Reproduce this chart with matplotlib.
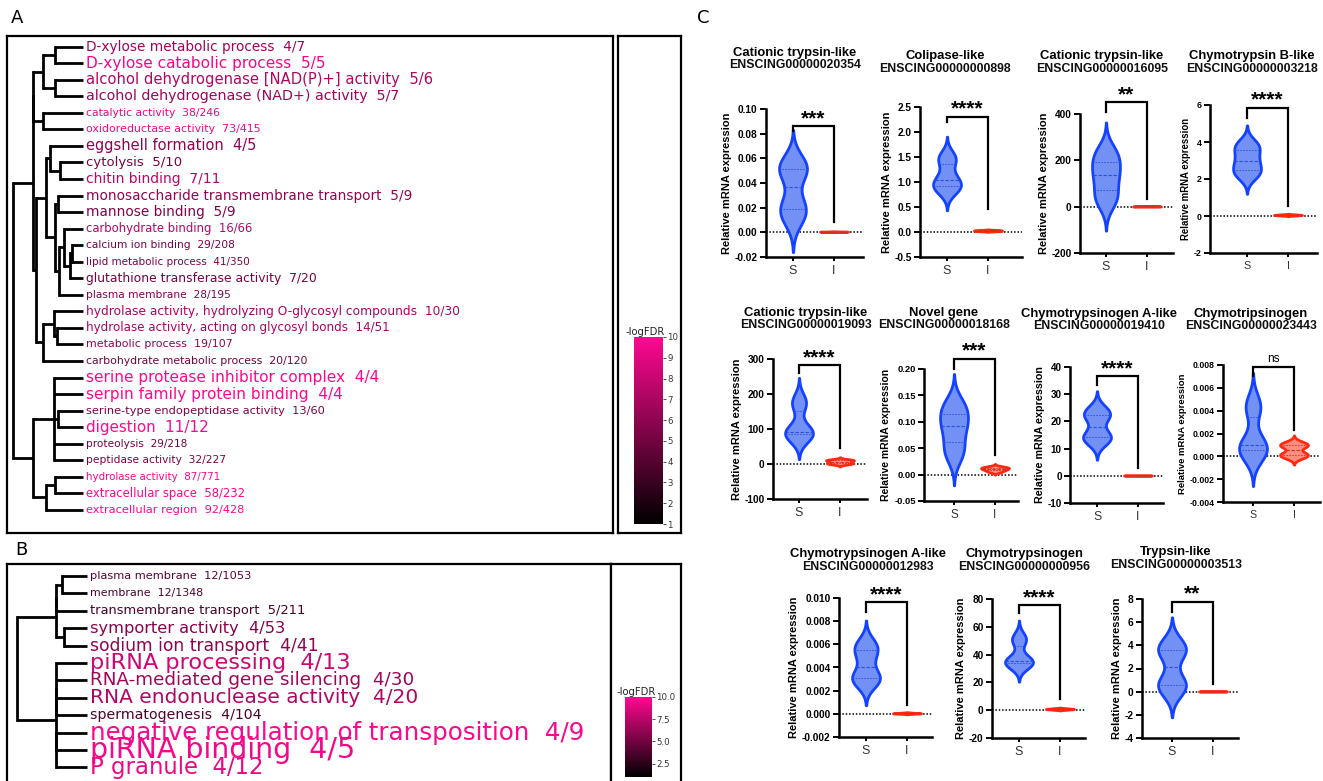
import numpy as np
import matplotlib
matplotlib.use("Agg")
import matplotlib.pyplot as plt
from matplotlib.colors import LinearSegmentedColormap, Normalize
from matplotlib.colorbar import ColorbarBase

plt.rcParams['axes.unicode_minus'] = False

W, H = 1323, 781

# ---------------- panel A: enriched GO terms ----------------
a_names = ["D-xylose metabolic process", "D-xylose catabolic process",
           "alcohol dehydrogenase [NAD(P)+] activity", "alcohol dehydrogenase (NAD+) activity",
           "catalytic activity", "oxidoreductase activity", "eggshell formation", "cytolysis",
           "chitin binding", "monosaccharide transmembrane transport", "mannose binding",
           "carbohydrate binding", "calcium ion binding", "lipid metabolic process",
           "glutathione transferase activity", "plasma membrane",
           "hydrolase activity, hydrolyzing O-glycosyl compounds",
           "hydrolase activity, acting on glycosyl bonds", "metabolic process",
           "carbohydrate metabolic process", "serine protease inhibitor complex",
           "serpin family protein binding", "serine-type endopeptidase activity", "digestion",
           "proteolysis", "peptidase activity", "hydrolase activity", "extracellular space",
           "extracellular region"]
a_counts = ["4/7", "5/5", "5/6", "5/7", "38/246", "73/415", "4/5", "5/10", "7/11", "5/9", "5/9",
            "16/66", "29/208", "41/350", "7/20", "28/195", "10/30", "14/51", "19/107", "20/120",
            "4/4", "4/4", "13/60", "11/12", "29/218", "32/227", "87/771", "58/232", "92/428"]
a_logfdr = [6.6, 9.6, 7.2, 6.6, 9.2, 9.6, 6.0, 5.2, 7.6, 6.2, 5.6, 7.4, 5.2, 5.4, 5.2, 5.6,
            7.0, 7.0, 6.2, 5.0, 10.0, 10.0, 5.4, 10.0, 5.0, 5.2, 9.6, 9.8, 10.0]

# dendrogram: (merge distance, children...), ints are leaf rows
a_top1 = (49.7, (39.7, (28, 0, 1), (28, 2, 3)), (39.7, 4, 5))
a_top2 = (37, (33, 6, (23, 7, 8)),
          (28, (24.7, 9, 10), (23.7, (19, 11, (13, (11.3, 12, 13), 14)), 15)))
a_top3 = (39.7, (28.7, 16, (25.7, 17, 18)), 19)
a_bot = (49.7, (29, 20, 21, (24.7, 22, 23), 24, 25), (37, (28, 26, 27), 28))
a_tree = (70.3, (50.3, a_top1, (47, a_top2, a_top3)), a_bot)

# ---------------- panel B ----------------
b_names = ["plasma membrane", "membrane", "transmembrane transport", "symporter activity",
           "sodium ion transport", "piRNA processing", "RNA-mediated gene silencing",
           "RNA endonuclease activity", "spermatogenesis", "negative regulation of transposition",
           "piRNA binding", "P granule"]
b_counts = ["12/1053", "12/1348", "5/211", "4/53", "4/41", "4/13", "4/30", "4/20", "4/104",
            "4/9", "4/5", "4/12"]
b_logfdr = [4.2, 3.8, 3.6, 5.8, 6.0, 8.3, 6.6, 7.2, 3.8, 9.8, 9.6, 9.3]
b_tree = (70.3, (31, (31, (25.3, 0, 1), 2), (23, 3, 4)), (31, (31, 5, 6, 7, 8), (31, 9, 10, 11)))

# ---------------- panel C: qPCR violins ----------------
genes = ["Cationic trypsin-like", "Colipase-like", "Cationic trypsin-like", "Chymotrypsin B-like",
         "Cationic trypsin-like", "Novel gene", "Chymotrypsinogen A-like", "Chymotripsinogen",
         "Chymotrypsinogen A-like", "Chymotrypsinogen", "Trypsin-like"]
gene_ids = ["ENSCING00000020354", "ENSCING00000000898", "ENSCING00000016095",
            "ENSCING00000003218", "ENSCING00000019093", "ENSCING00000018168",
            "ENSCING00000019410", "ENSCING00000023443", "ENSCING00000012983",
            "ENSCING00000000956", "ENSCING00000003513"]
s_vals = [[0.012, 0.017, 0.024, 0.049, 0.052, 0.055],
          [0.84, 0.90, 0.98, 1.12, 1.44, 1.50],
          [20, 55, 120, 156, 205, 240],
          [2.2, 2.4, 2.8, 3.2, 3.7, 3.9],
          [80, 85, 90, 95, 170, 180],
          [0.035, 0.055, 0.085, 0.10, 0.12, 0.135],
          [13, 14, 15, 21, 23, 24],
          [0.0002, 0.0005, 0.0008, 0.0012, 0.0042, 0.0045],
          [0.0028, 0.0030, 0.0033, 0.0048, 0.0057, 0.0060],
          [33, 34, 35, 36, 50, 52],
          [0.3, 0.5, 0.8, 3.4, 3.7, 3.9]]
i_vals = [[0.0003, 0.0004, 0.0005, 0.0005, 0.0006, 0.0007],
          [0.015, 0.02, 0.025, 0.03, 0.035, 0.04],
          [0.5, 0.8, 1.0, 1.2, 1.5, 1.8],
          [0.02, 0.04, 0.05, 0.06, 0.07, 0.09],
          [0, 2, 4, 9, 11, 12],
          [0.005, 0.008, 0.010, 0.012, 0.013, 0.015],
          [0.05, 0.08, 0.10, 0.10, 0.12, 0.15],
          [0.0, 0.0001, 0.0002, 0.0009, 0.0010, 0.0011],
          [0.0, 0.00003, 0.00004, 0.00005, 0.00007, 0.0001],
          [0.3, 0.6, 0.8, 0.9, 1.1, 1.4],
          [0.0, 0.01, 0.02, 0.02, 0.03, 0.04]]
y_ranges = [(-0.02, 0.10, 0.02), (-0.5, 2.5, 0.5), (-200, 400, 200), (-2, 6, 2),
            (-100, 300, 100), (-0.05, 0.20, 0.05), (-10, 40, 10), (-0.004, 0.008, 0.002),
            (-0.002, 0.010, 0.002), (-20, 80, 20), (-4, 8, 2)]
signif = ["***", "****", "**", "****", "****", "***", "****", "ns", "****", "****", "**"]
# bracket: top, left leg end, right leg end
brackets = [(0.086, 0.082, 0.008), (2.31, 2.2, 0.47), (450, 407, 33), (5.86, 5.28, 0.55),
            (282, 260, 45), (0.219, 0.20, 0.038), (36.6, 33.5, 2.9),
            (0.00785, 0.00704, 0.00232), (0.00965, 0.0088, 0.0008), (75.7, 69.7, 8.4),
            (7.77, 6.9, 0.64)]

# layout in pixels: spine x, S x, right end, top tick y, axis y, title x, title y, font scale
panel_px = [(766, 793, 863, 109, 257, 795, 53, 1.0),
            (920, 947, 1022, 107, 257, 945, 56, 1.0),
            (1080, 1106, 1173, 114, 253, 1102, 56, 1.0),
            (1210, 1247, 1317, 105, 253, 1252, 56, 0.87),
            (773, 799, 867, 359, 499, 806, 313, 1.0),
            (924, 954, 1018, 369, 501, 944, 313, 0.93),
            (1070, 1097, 1163, 367, 503, 1099, 314, 0.97),
            (1223, 1253, 1320, 365, 502, 1251, 314, 0.85),
            (839, 866, 932, 598, 737, 868, 554, 1.0),
            (992, 1019, 1085, 599, 738, 1024, 554, 1.0),
            (1142, 1172, 1238, 599, 738, 1176, 552, 1.0)]
SPACING = 41.0


def px_rect(x0, y0, x1, y1):
    return [x0 / W, 1 - y1 / H, (x1 - x0) / W, (y1 - y0) / H]


cmap = LinearSegmentedColormap.from_list('fdr', ['#000000', '#FF0890'])
norm = Normalize(1, 10)


def term_sizes(counts, lo, hi, p):
    r = np.array([int(c.split('/')[0]) / int(c.split('/')[1]) for c in counts]) ** p
    return (lo + (hi - lo) * (r - r.min()) / (r.max() - r.min())) * 0.72


def draw_tree(ax, node):
    if isinstance(node, int):
        return float(node), 0.0
    h = node[0]
    kids = [draw_tree(ax, k) for k in node[1:]]
    ys = [k[0] for k in kids]
    for y, d in kids:
        ax.plot([d, h], [y, y], color='k', lw=2.0, solid_capstyle='butt')
    ax.plot([h, h], [min(ys), max(ys)], color='k', lw=2.0, solid_capstyle='projecting')
    return (min(ys) + max(ys)) / 2, h


def go_panel(box, leaf_x, row0, row_gap, names, counts, logfdr, tree, lo, hi, p):
    ax = fig.add_axes(px_rect(*box))
    x0, y0, x1, y1 = box
    ax.set_xlim(leaf_x - x0, leaf_x - x1)
    ax.set_ylim((y1 - row0) / row_gap, (y0 - row0) / row_gap)
    ax.set_xticks([])
    ax.set_yticks([])
    for s in ax.spines.values():
        s.set_linewidth(1.6)
    draw_tree(ax, tree)
    sizes = term_sizes(counts, lo, hi, p)
    for i, (n, c, v) in enumerate(zip(names, counts, logfdr)):
        ax.text(-3, i, f"{n}  {c}", fontsize=sizes[i], color=cmap(norm(v)),
                va='center', ha='left', family='DejaVu Sans')
    return ax


def cbar_panel(box, bar, ticks, fmt):
    bx = fig.add_axes(px_rect(*box))
    bx.set_xticks([])
    bx.set_yticks([])
    for s in bx.spines.values():
        s.set_linewidth(1.6)
    cax = fig.add_axes(px_rect(*bar))
    cb = ColorbarBase(cax, cmap=cmap, norm=norm, ticks=ticks, format=fmt)
    cb.outline.set_visible(False)
    cax.tick_params(labelsize=6.2, length=2, width=0.6, pad=1, colors='#333333')
    fig.text((bar[0] - 8) / W, 1 - bar[1] / H, "-logFDR", fontsize=7.2, color='#222222',
             ha='left', va='bottom', family='DejaVu Sans')


def violin(ax, x0, vals, face, edge, qcol):
    v = np.asarray(vals, float)
    h = 0.8 * v.std(ddof=1) * len(v) ** -0.2
    ys = np.linspace(v.min() - 2.6 * h, v.max() + 2.6 * h, 300)
    dens = np.exp(-0.5 * ((ys[:, None] - v[None, :]) / h) ** 2).sum(axis=1)
    dens = 0.34 * dens / dens.max()
    ax.fill_betweenx(ys, x0 - dens, x0 + dens, facecolor=face, edgecolor=edge, lw=2.0,
                     zorder=3)
    for q, ls, lw in ((25, (0, (2, 1.5)), 0.6), (50, (0, (3, 1.5)), 0.8),
                      (75, (0, (2, 1.5)), 0.6)):
        yq = np.percentile(v, q)
        w = np.interp(yq, ys, dens)
        ax.plot([x0 - w, x0 + w], [yq, yq], color=qcol, ls=ls, lw=lw, zorder=4)


fig = plt.figure(figsize=(W / 100, H / 100), dpi=100)
fig.patch.set_facecolor('white')

# panel labels
for lab, x, y in (("A", 11, 9), ("B", 15, 541), ("C", 697, 9)):
    fig.text(x / W, 1 - y / H, lab, fontsize=13, va='top', ha='left', family='DejaVu Sans')

go_panel((7, 36, 613, 533), 83, 46.7, 16.54, a_names, a_counts, a_logfdr, a_tree,
         10.3, 15.4, 0.4)
cbar_panel((618, 36, 681, 533), (634, 337, 663, 524), list(range(1, 11)), '%d')

go_panel((7, 564, 611, 796), 87, 576, 17.4, b_names, b_counts, b_logfdr, b_tree,
         11, 28.5, 0.33)
cbar_panel((611, 564, 681, 796), (625, 697, 652, 777), [2.5, 5.0, 7.5, 10.0], '%.1f')

cfont = 'Liberation Sans'
for k in range(len(genes)):
    left, sx, right, top, bottom, tx, ty, sc = panel_px[k]
    ax = fig.add_axes(px_rect(left, top, right, bottom))
    lo, hi, step = y_ranges[k]
    ax.set_xlim((left - sx) / SPACING, (right - sx) / SPACING)
    ax.set_ylim(lo, hi)
    ax.axhline(0, color='k', lw=1.1, ls=(0, (1, 1.2)), zorder=2)
    violin(ax, 0, s_vals[k], '#7391F5', '#1442FF', '#2A4FD6')
    violin(ax, 1, i_vals[k], '#FF8E80', '#FF2A14', '#D0301E')

    btop, bl, br = brackets[k]
    ax.plot([0, 0, 1, 1], [bl, btop, btop, br], color='k', lw=1.6, clip_on=False,
            solid_joinstyle='miter', zorder=5)
    if signif[k] == 'ns':
        ax.annotate('ns', (0.5, btop), xytext=(0, 3.5), textcoords='offset points',
                    ha='center', va='baseline', fontsize=8.5, family=cfont,
                    annotation_clip=False)
    else:
        ax.annotate(signif[k], (0.5, btop), xytext=(0, 1.5), textcoords='offset points',
                    ha='center', va='baseline', fontsize=15, fontweight='bold',
                    family=cfont, annotation_clip=False)

    ticks = np.arange(lo, hi + step / 2, step)
    dec = max(0, int(-np.floor(np.log10(step))))
    ax.set_yticks(ticks)
    ax.set_yticklabels([f"{t:.{dec}f}" for t in ticks], fontweight='bold', family=cfont)
    ax.set_xticks([0, 1])
    ax.set_xticklabels(['S', 'I'], family=cfont, color='#333333')
    ax.tick_params(axis='y', labelsize=7.3 * sc, width=1.4, length=4, pad=2)
    ax.tick_params(axis='x', labelsize=9 * sc, width=1.4, length=3, pad=3)
    ax.set_ylabel("Relative mRNA expression", fontsize=8 * sc, fontweight='bold',
                  family=cfont, labelpad=2)
    for side in ('top', 'right'):
        ax.spines[side].set_visible(False)
    for side in ('left', 'bottom'):
        ax.spines[side].set_linewidth(1.8)
    ax.spines['left'].set_bounds(lo, hi)
    ax.patch.set_alpha(0)

    fig.text(tx / W, 1 - ty / H, genes[k], fontsize=9.4, fontweight='bold', family=cfont,
             ha='center', va='center')
    fig.text(tx / W, 1 - (ty + 12.5) / H, gene_ids[k], fontsize=8.8, fontweight='bold',
             family=cfont, ha='center', va='center', color='#111111')

fig.savefig("out.png", dpi=100, facecolor='white')
